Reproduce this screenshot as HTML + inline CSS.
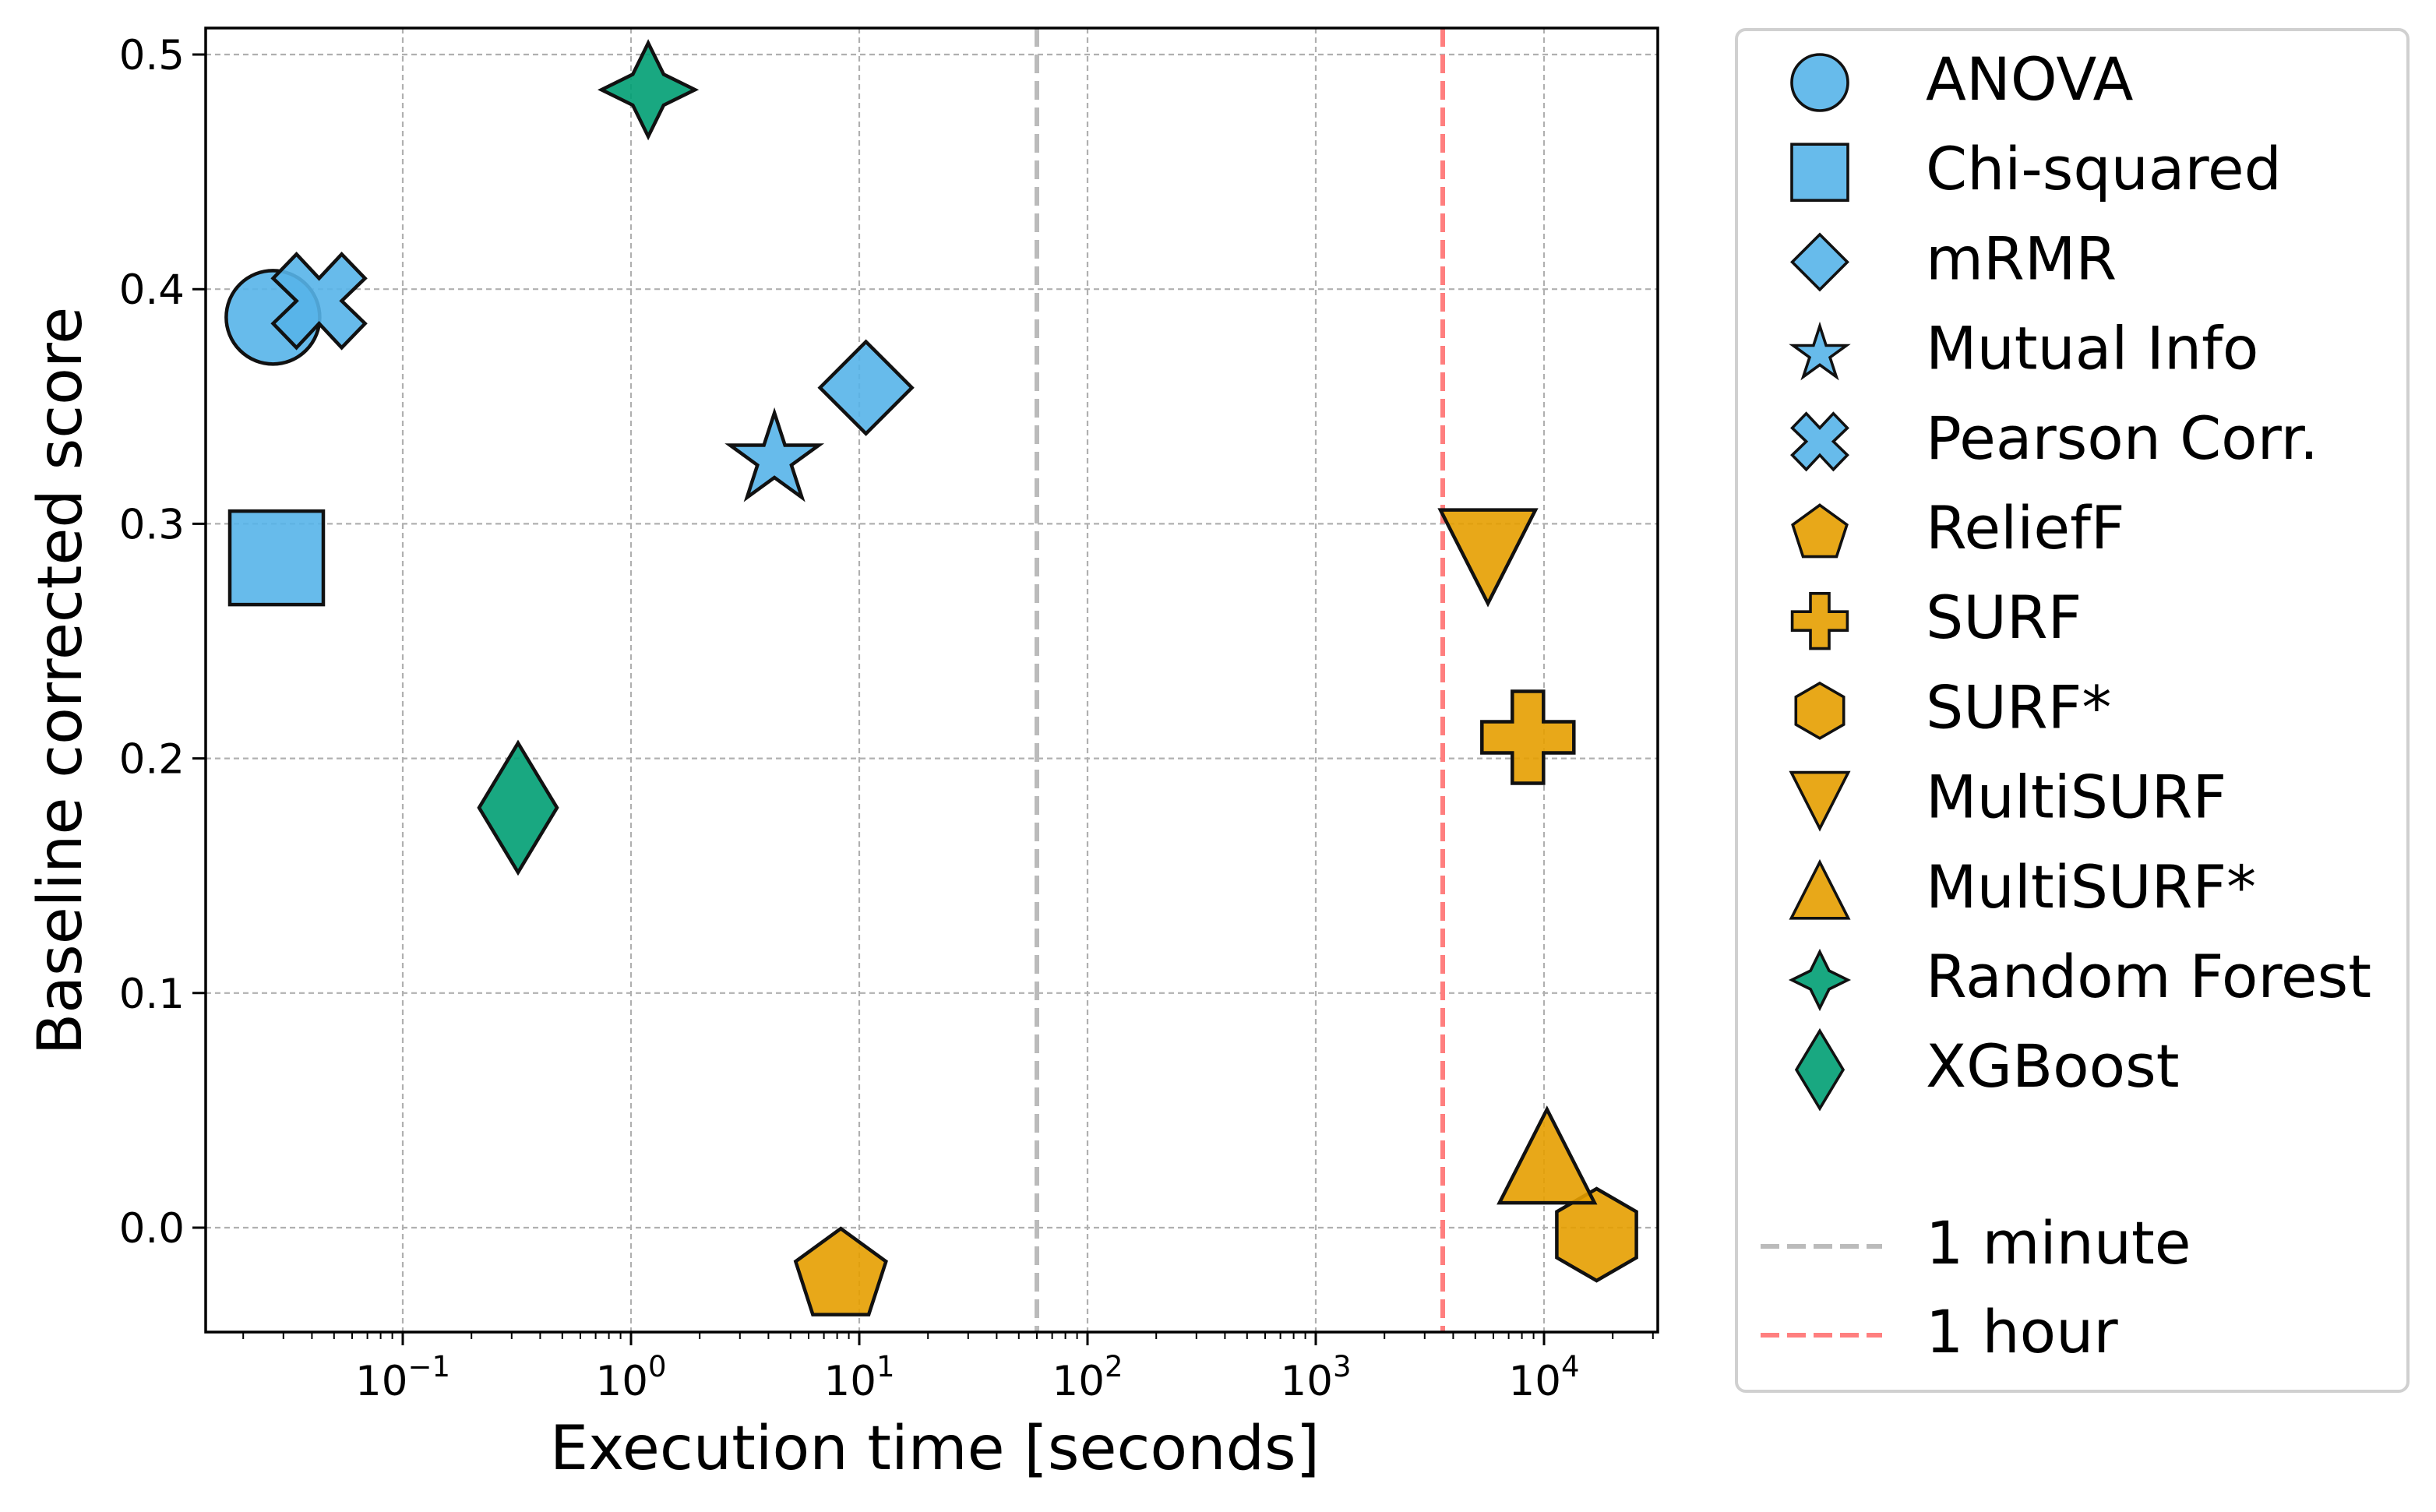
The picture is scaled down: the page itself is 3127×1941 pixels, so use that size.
<!DOCTYPE html>
<html><head><meta charset="utf-8"><style>
html,body{margin:0;padding:0;background:#fff}
svg{display:block;font-family:"DejaVu Sans","Liberation Sans",sans-serif}
</style></head><body>
<svg id="chart" width="3127" height="1941" viewBox="0 0 3127 1941" xmlns="http://www.w3.org/2000/svg">
<rect width="3127" height="1941" fill="#fff"/>
<g id="grid"></g><g id="refs"></g><g id="marks"></g><g id="axes"></g><g id="legend"></g>
</svg>
<script>
const methods=["ANOVA","Chi-squared","mRMR","Mutual Info","Pearson Corr.","ReliefF","SURF","SURF*","MultiSURF","MultiSURF*","Random Forest","XGBoost"];
const times=[0.027,0.028,10.7,4.25,0.043,8.3,8500,17000,5680,10300,1.19,0.32];
const scores=[0.388,0.2855,0.358,0.329,0.395,-0.019,0.209,-0.003,0.286,0.0305,0.485,0.179];
const shapes=["circle","square","diamond","star","x","pentagon","plus","hexagon","tridown","triup","star4","thindiamond"];
const groups=["blue","blue","blue","blue","blue","orange","orange","orange","orange","orange","green","green"];
const yTicks=[0.0,0.1,0.2,0.3,0.4,0.5];
const yTickLabels=["0.0","0.1","0.2","0.3","0.4","0.5"];
const xTickExps=[-1,0,1,2,3,4];
const refTimes=[60,3600];
const refLabels=["1 minute","1 hour"];

const NS="http://www.w3.org/2000/svg";
const L=264,R=2128,T=36,B=1710;
const X=t=>810+293*Math.log10(t);
const Y=v=>1576-3012*v;
const colorMap={blue:"#56B4E9",orange:"#E69F00",green:"#009E73"};
function mk(tag,attrs,parent){const e=document.createElementNS(NS,tag);for(const k in attrs)e.setAttribute(k,attrs[k]);parent.appendChild(e);return e;}
function pts(a,cx,cy,s){return a.map(p=>(cx+p[0]*s).toFixed(1)+","+(cy+p[1]*s).toFixed(1)).join(" ");}
function polyStar(n,Ro,Ri,rot){const a=[];for(let i=0;i<2*n;i++){const r=i%2?Ri:Ro;const ang=rot+Math.PI*i/n;a.push([r*Math.sin(ang),-r*Math.cos(ang)]);}return a;}
function regPoly(n,Rr,rot){const a=[];for(let i=0;i<n;i++){const ang=rot+2*Math.PI*i/n;a.push([Rr*Math.sin(ang),-Rr*Math.cos(ang)]);}return a;}
const shapeDefs={
 square:[[-60,-60],[60,-60],[60,60],[-60,60]],
 diamond:[[0,-59],[59,0],[0,59],[-59,0]],
 thindiamond:[[0,-83],[50,0],[0,83],[-50,0]],
 star:polyStar(5,60,60*0.382,0).map(p=>[p[0],p[1]+5]),
 star4:polyStar(4,60,28,0),
 x:[[-29,-60],[0,-29],[29,-60],[59,-29],[29,0],[59,29],[29,60],[0,29],[-29,60],[-59,29],[-29,0],[-59,-29]],
 plus:[[-20,-59],[20,-59],[20,-20],[59,-20],[59,20],[20,20],[20,59],[-20,59],[-20,20],[-59,20],[-59,-20],[-20,-20]],
 pentagon:regPoly(5,61,0).map(p=>[p[0],p[1]+5]),
 hexagon:regPoly(6,59,0),
 triup:[[0,-60],[-61,60],[61,60]],
 tridown:[[0,60],[-61,-60],[61,-60]]
};
function drawMarker(shape,cx,cy,s,color,parent){
 const st={fill:color,"fill-opacity":0.9,stroke:"#111","stroke-width":4.5*Math.max(s,0.8),"stroke-linejoin":"miter"};
 if(shape==="circle"){return mk("circle",Object.assign({cx:cx,cy:cy,r:60*s},st),parent);}
 return mk("polygon",Object.assign({points:pts(shapeDefs[shape],cx,cy,s)},st),parent);
}
const grid=document.getElementById("grid"),refs=document.getElementById("refs"),marks=document.getElementById("marks"),axes=document.getElementById("axes"),leg=document.getElementById("legend");
yTicks.forEach(v=>{const g=mk("line",{x1:L,x2:R,y1:Y(v),y2:Y(v),stroke:"#b0b0b0","stroke-width":2.2,"stroke-dasharray":"7,5"},grid);

});
xTickExps.forEach(e=>{const g=mk("line",{x1:X(Math.pow(10,e)),x2:X(Math.pow(10,e)),y1:T,y2:B,stroke:"#b0b0b0","stroke-width":2.2,"stroke-dasharray":"7,5"},grid);

});
const refColors=["#bbbbbb","#ff7f7f"];
refTimes.forEach((t,i)=>{const l=mk("line",{x1:X(t),x2:X(t),y1:T,y2:B,stroke:refColors[i],"stroke-width":6,"stroke-dasharray":"24,10"},refs);

});
methods.forEach((m,i)=>{const el=drawMarker(shapes[i],X(times[i]),Y(scores[i]),1,colorMap[groups[i]],marks);

});
const fr=mk("rect",{x:L,y:T,width:R-L,height:B-T,fill:"none",stroke:"#000","stroke-width":3.5},axes);


yTicks.forEach((v,i)=>{mk("line",{x1:L-17,x2:L,y1:Y(v),y2:Y(v),stroke:"#000","stroke-width":3},axes);
const t=mk("text",{x:L-27,y:Y(v)+19,"font-size":53,"text-anchor":"end",fill:"#000"},axes);t.textContent=yTickLabels[i];

});
for(let e=-2;e<=4;e++){for(let k=1;k<=9;k++){const t=k*Math.pow(10,e);const x=X(t);if(x<L||x>R)continue;
mk("line",{x1:x,x2:x,y1:B,y2:B+(k===1?17:9),stroke:"#000","stroke-width":k===1?3:2},axes);}}
xTickExps.forEach(e=>{const x=X(Math.pow(10,e));
const t=mk("text",{x:x,y:1791,"font-size":53,"text-anchor":"middle",fill:"#000"},axes);


const a=document.createElementNS(NS,"tspan");a.textContent="10";t.appendChild(a);
const b=document.createElementNS(NS,"tspan");b.setAttribute("dy","-24");b.setAttribute("font-size","37");b.textContent=(e<0?"\u2212":"")+Math.abs(e);t.appendChild(b);});
const xl=mk("text",{x:1200,y:1886,"font-size":78,"text-anchor":"middle",fill:"#000"},axes);xl.textContent="Execution time [seconds]";


const yl=mk("text",{x:0,y:0,"font-size":78,"text-anchor":"middle",fill:"#000",transform:"translate(104,874) rotate(-90)"},axes);yl.textContent="Baseline corrected score";


const lb=mk("rect",{x:2229,y:38,width:862,height:1748,rx:12,fill:"#fff",stroke:"#d0d0d0","stroke-width":4},leg);


methods.forEach((m,i)=>{const cy=106+i*115.2;
const g=mk("g",{},leg);


drawMarker(shapes[i],2336,cy,0.6,colorMap[groups[i]],g);
const t=mk("text",{x:2472,y:cy+22,"font-size":76,fill:"#000"},g);t.textContent=m;});
refLabels.forEach((lab,i)=>{const cy=1600+i*114;
const g=mk("g",{},leg);


mk("line",{x1:2260,x2:2416,y1:cy,y2:cy,stroke:refColors[i],"stroke-width":6,"stroke-dasharray":"24,10"},g);
const t=mk("text",{x:2472,y:cy+22,"font-size":76,fill:"#000"},g);t.textContent=lab;});
</script>
</body></html>
